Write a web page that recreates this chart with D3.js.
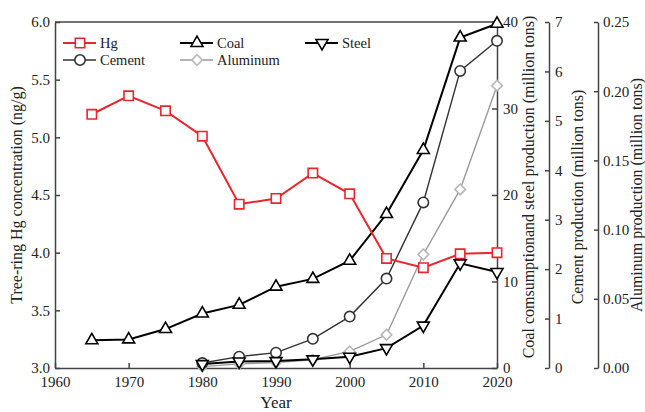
<!DOCTYPE html>
<html>
<head>
<meta charset="utf-8">
<script src="https://cdn.jsdelivr.net/npm/d3@7"></script>
<style>
  html, body { margin: 0; padding: 0; background: #fff; }
  svg { display: block; font-family: "Liberation Serif", "Times New Roman", serif; }
  .axis text { font-family: "Liberation Serif", "Times New Roman", serif; font-size: 15px; fill: #222; }
  .axis path, .axis line { stroke: #444; stroke-width: 1.5; }
  .title { font-size: 16px; fill: #222; }
  .legend text { font-size: 14.5px; fill: #222; }
</style>
</head>
<body>
<svg id="chart" width="645" height="412"></svg>
<script>
// Years sampled
const hgYears = [1965, 1970, 1975, 1980, 1985, 1990, 1995, 2000, 2005, 2010, 2015, 2020];
const coalYears = [1965, 1970, 1975, 1980, 1985, 1990, 1995, 2000, 2005, 2010, 2015, 2020];
const prodYears = [1980, 1985, 1990, 1995, 2000, 2005, 2010, 2015, 2020];

// Tree-ring Hg concentration (ng/g)
const hgValues = [5.20, 5.36, 5.23, 5.01, 4.42, 4.47, 4.69, 4.51, 3.95, 3.87, 3.99, 4.00];
// Coal consumption (million tons)
const coalValues = [3.2, 3.3, 4.5, 6.3, 7.3, 9.4, 10.3, 12.4, 17.8, 25.2, 38.2, 39.8];
// Steel production (million tons)
const steelValues = [0.45, 0.75, 0.8, 1.0, 1.3, 2.3, 4.9, 12.1, 11.1];
// Cement production (million tons)
const cementValues = [0.1, 0.23, 0.31, 0.59, 1.04, 1.81, 3.35, 6.01, 6.62];
// Aluminum production (million tons)
const aluminumValues = [0.001, 0.003, 0.004, 0.006, 0.012, 0.024, 0.082, 0.129, 0.204];

// Axis ticks
const yearTicks = [1960, 1970, 1980, 1990, 2000, 2010, 2020];
const hgTicks = [3.0, 3.5, 4.0, 4.5, 5.0, 5.5, 6.0];
const coalTicks = [0, 10, 20, 30, 40];
const cementTicks = [0, 1, 2, 3, 4, 5, 6, 7];
const aluminumTicks = [0, 0.05, 0.10, 0.15, 0.20, 0.25];

const svg = d3.select("#chart");
const L = 55, R = 497, T = 22, B = 368;
const xCem = 549, xAl = 598;

const x = d3.scaleLinear().domain([1960, 2020]).range([L, R]);
const yHg = d3.scaleLinear().domain([3, 6]).range([B, T]);
const yCoal = d3.scaleLinear().domain([0, 40]).range([B, T]);
const yCem = d3.scaleLinear().domain([0, 7]).range([B, T]);
const yAl = d3.scaleLinear().domain([0, 0.25]).range([B, T]);

// Axes
svg.append("g").attr("class", "axis").attr("transform", `translate(0,${B})`)
  .call(d3.axisBottom(x).tickValues(yearTicks).tickFormat(d3.format("d"))
    .tickSize(-5).tickSizeOuter(0).tickPadding(8));
svg.append("g").attr("class", "axis").attr("transform", `translate(${L},0)`)
  .call(d3.axisLeft(yHg).tickValues(hgTicks).tickFormat(d3.format(".1f"))
    .tickSize(-5).tickSizeOuter(0).tickPadding(5));
svg.append("g").attr("class", "axis").attr("transform", `translate(${R},0)`)
  .call(d3.axisRight(yCoal).tickValues(coalTicks).tickFormat(d3.format("d"))
    .tickSize(-5).tickSizeOuter(0).tickPadding(6));
svg.append("g").attr("class", "axis").attr("transform", `translate(${xCem},0)`)
  .call(d3.axisRight(yCem).tickValues(cementTicks).tickFormat(d3.format("d"))
    .tickSize(-4).tickSizeOuter(0).tickPadding(6));
svg.append("g").attr("class", "axis").attr("transform", `translate(${xAl},0)`)
  .call(d3.axisRight(yAl).tickValues(aluminumTicks).tickFormat(d3.format(".2f"))
    .tickSize(-4).tickSizeOuter(0).tickPadding(5));
// top frame line
svg.append("line").attr("x1", L).attr("x2", R).attr("y1", T).attr("y2", T)
  .attr("stroke", "#444").attr("stroke-width", 1.5);

// Axis titles
svg.append("text").attr("class", "title").attr("text-anchor", "middle")
  .attr("transform", `translate(22,${(T + B) / 2}) rotate(-90)`)
  .text("Tree-ring Hg concentration (ng/g)");
svg.append("text").attr("class", "title").attr("text-anchor", "middle")
  .attr("transform", `translate(534,187) rotate(-90)`)
  .text("Coal comsumptionand steel production (million tons)");
svg.append("text").attr("class", "title").attr("text-anchor", "middle")
  .attr("transform", `translate(583,197) rotate(-90)`)
  .text("Cement production (million tons)");
svg.append("text").attr("class", "title").attr("text-anchor", "middle")
  .attr("transform", `translate(642,195) rotate(-90)`)
  .text("Aluminum production (million tons)");
svg.append("text").attr("class", "title").attr("text-anchor", "middle")
  .attr("x", (L + R) / 2).attr("y", 408).style("font-size", "17px").text("Year");

// Series definitions
const series = [
  { name: "Aluminum", years: prodYears, values: aluminumValues, y: yAl,
    line: "#9a9a9a", mark: "#b8b8b8", lw: 1.4, sym: d3.symbolSquare, size: 56, rot: 45 },
  { name: "Cement", years: prodYears, values: cementValues, y: yCem,
    line: "#333", mark: "#333", lw: 1.4, sym: d3.symbolCircle, size: 85, rot: 0 },
  { name: "Steel", years: prodYears, values: steelValues, y: yCoal,
    line: "#000", mark: "#000", lw: 2, sym: d3.symbolTriangle, size: 62, rot: 180 },
  { name: "Coal", years: coalYears, values: coalValues, y: yCoal,
    line: "#000", mark: "#000", lw: 2, sym: d3.symbolTriangle, size: 62, rot: 0 },
  { name: "Hg", years: hgYears, values: hgValues, y: yHg,
    line: "#e8262d", mark: "#e8262d", lw: 2, sym: d3.symbolSquare, size: 88, rot: 0 }
];

series.forEach(s => {
  const pts = s.years.map((yr, i) => [x(yr), s.y(s.values[i])]);
  const g = svg.append("g");
  g.append("path").attr("d", d3.line()(pts)).attr("fill", "none")
    .attr("stroke", s.line).attr("stroke-width", s.lw);
  g.selectAll("path.m").data(pts).join("path").attr("class", "m")
    .attr("d", d3.symbol().type(s.sym).size(s.size)())
    .attr("transform", d => `translate(${d[0]},${d[1]}) rotate(${s.rot})`)
    .attr("fill", "#fff").attr("stroke", s.mark).attr("stroke-width", 1.6);
});

// Legend
const legendItems = [
  { key: "Hg", col: 0, row: 0 }, { key: "Coal", col: 1, row: 0 }, { key: "Steel", col: 2, row: 0 },
  { key: "Cement", col: 0, row: 1 }, { key: "Aluminum", col: 1, row: 1 }
];
const colX = [63, 180, 305], rowY = [43, 60];
const lg = svg.append("g").attr("class", "legend");
legendItems.forEach(it => {
  const s = series.find(d => d.name === it.key);
  const x0 = colX[it.col], y0 = rowY[it.row];
  lg.append("line").attr("x1", x0).attr("x2", x0 + 33).attr("y1", y0).attr("y2", y0)
    .attr("stroke", s.line).attr("stroke-width", s.lw);
  lg.append("path").attr("d", d3.symbol().type(s.sym).size(s.size)())
    .attr("transform", `translate(${x0 + 17},${y0}) rotate(${s.rot})`)
    .attr("fill", "#fff").attr("stroke", s.mark).attr("stroke-width", 1.6);
  lg.append("text").attr("x", x0 + 37).attr("y", y0 + 5).text(it.key);
});
</script>
</body>
</html>
